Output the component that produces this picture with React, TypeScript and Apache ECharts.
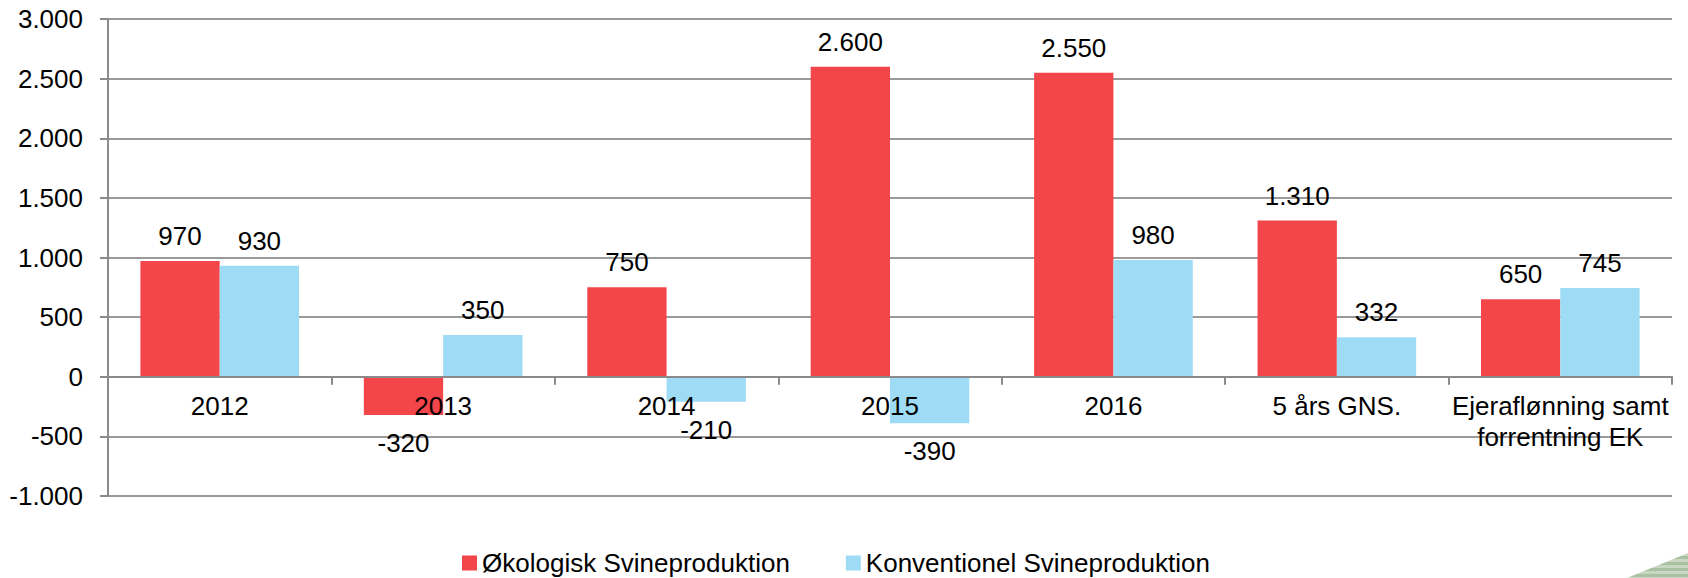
import React, { useEffect, useRef } from "react";
import * as echarts from "echarts";

const CATEGORIES = ["2012", "2013", "2014", "2015", "2016", "5 års GNS.", "Ejeraflønning samt\nforrentning EK"];
const OKOLOGISK = [970, -320, 750, 2600, 2550, 1310, 650];
const KONVENTIONEL = [930, 350, -210, -390, 980, 332, 745];
const SERIES_NAMES = ["Økologisk Svineproduktion", "Konventionel Svineproduktion"];
const Y_MIN = -1000;
const Y_MAX = 3000;
const Y_STEP = 500;

const FONT = "'Liberation Sans', Arial, sans-serif";
const RED = "#F2464B";
const BLUE = "#9EDCF6";
const GRID_COLOR = "#9a9a9a";
const AXIS_COLOR = "#8a8a8a";

const CHART_H = 578;
const GRID_TOP = 19;
const GRID_BOTTOM = 82;

function fmt(v: number): string {
  const s = Math.abs(v).toString().replace(/\B(?=(\d{3})+(?!\d))/g, ".");
  return (v < 0 ? "-" : "") + s;
}

function stripes() {
  const els: any[] = [];
  const top = 553;
  const bottom = 578;
  const right = 1688;
  const slope = 61 / 25;
  const xl = (y: number) => right - (y - top) * slope;
  let i = 0;
  for (let y = top; y < bottom; y += 3) {
    const y1 = Math.min(bottom, y + 3);
    els.push({
      type: "polygon",
      silent: true,
      shape: { points: [[xl(y), y], [right, y], [right, y1], [xl(y1), y1]] },
      style: { fill: i % 2 === 0 ? "#c9d8c3" : "#a9c1a0" },
    });
    i++;
  }
  return els;
}

export default function App() {
  const ref = useRef<HTMLDivElement>(null);
  useEffect(() => {
    document.body.style.margin = "0";
    if (!ref.current) return;
    const chart = echarts.init(ref.current, undefined, { renderer: "svg" });
    const mk = (vals: number[]) =>
      vals.map((v) => ({
        value: v,
        label: { position: v < 0 ? "bottom" : "top", distance: v < 0 ? 15 : 12 },
      }));
    const labelCfg = {
      show: true,
      color: "#000",
      fontFamily: FONT,
      fontSize: 26,
      formatter: (p: any) => fmt(p.value),
    };
    // category labels sit below the zero line, not the grid bottom
    const plotH = CHART_H - GRID_TOP - GRID_BOTTOM;
    const zeroFromBottom = ((0 - Y_MIN) / (Y_MAX - Y_MIN)) * plotH;
    const catLabelMargin = 14 - zeroFromBottom;

    chart.setOption({
      animation: false,
      backgroundColor: "#fff",
      textStyle: { fontFamily: FONT },
      grid: { left: 108, right: 16, top: GRID_TOP, bottom: GRID_BOTTOM, containLabel: false },
      legend: {
        left: 457,
        top: 544,
        itemWidth: 15,
        itemHeight: 15,
        itemGap: 56,
        icon: "rect",
        textStyle: { fontFamily: FONT, fontSize: 26, lineHeight: 28, color: "#000", padding: [0, 0, 0, 0] },
        data: SERIES_NAMES,
      },
      xAxis: {
        type: "category",
        data: CATEGORIES,
        z: 3,
        axisLine: { show: true, onZero: true, lineStyle: { color: AXIS_COLOR, width: 2 } },
        axisTick: { show: true, length: 8, lineStyle: { color: AXIS_COLOR, width: 2 } },
        axisLabel: {
          interval: 0,
          margin: catLabelMargin,
          color: "#000",
          fontFamily: FONT,
          fontSize: 26,
          lineHeight: 31,
        },
        splitLine: { show: false },
      },
      yAxis: {
        type: "value",
        min: Y_MIN,
        max: Y_MAX,
        interval: Y_STEP,
        axisLine: { show: true, lineStyle: { color: AXIS_COLOR, width: 2 } },
        axisTick: { show: true, length: 8, lineStyle: { color: AXIS_COLOR, width: 2 } },
        axisLabel: {
          margin: 25,
          color: "#000",
          fontFamily: FONT,
          fontSize: 26,
          formatter: (v: number) => fmt(v),
        },
        splitLine: { show: true, lineStyle: { color: GRID_COLOR, width: 2 } },
      },
      series: [
        {
          name: SERIES_NAMES[0],
          type: "bar",
          data: mk(OKOLOGISK),
          itemStyle: { color: RED },
          barGap: "0%",
          barCategoryGap: "29%",
          label: labelCfg,
        },
        {
          name: SERIES_NAMES[1],
          type: "bar",
          data: mk(KONVENTIONEL),
          itemStyle: { color: BLUE },
          barGap: "0%",
          barCategoryGap: "29%",
          label: labelCfg,
        },
      ],
      graphic: stripes(),
    });
    return () => chart.dispose();
  }, []);
  return <div ref={ref} style={{ width: 1688, height: 578 }} />;
}
